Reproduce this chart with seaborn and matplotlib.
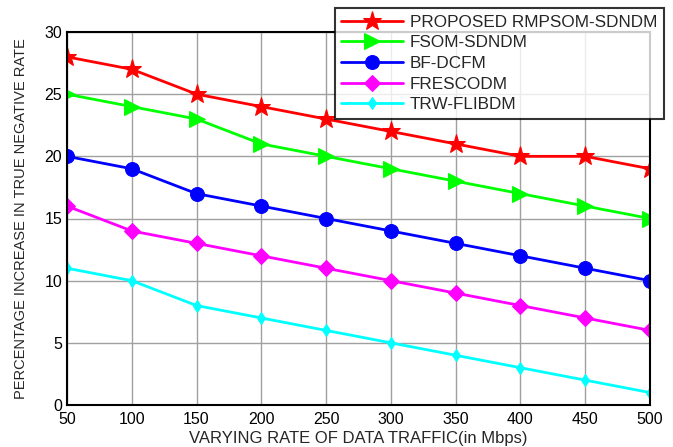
import numpy as np
import pandas as pd
import matplotlib
matplotlib.use("Agg")
import matplotlib.pyplot as plt
import seaborn as sns

# data
traffic = [50, 100, 150, 200, 250, 300, 350, 400, 450, 500]
rmpsom = [28, 27, 25, 24, 23, 22, 21, 20, 20, 19]
fsom = [25, 24, 23, 21, 20, 19, 18, 17, 16, 15]
bf_dcfm = [20, 19, 17, 16, 15, 14, 13, 12, 11, 10]
frescodm = [16, 14, 13, 12, 11, 10, 9, 8, 7, 6]
trw = [11, 10, 8, 7, 6, 5, 4, 3, 2, 1]

names = ["PROPOSED RMPSOM-SDNDM", "FSOM-SDNDM", "BF-DCFM", "FRESCODM", "TRW-FLIBDM"]
series = [rmpsom, fsom, bf_dcfm, frescodm, trw]
colors = ["#ff0000", "#00ff00", "#0000ff", "#ff00ff", "#00ffff"]
markers = ["*", ">", "o", "D", "d"]
msizes = [14, 11, 10, 8, 6]

sns.set_style("whitegrid")
plt.rcParams['font.family'] = ['Liberation Sans', 'DejaVu Sans']

fig = plt.figure(figsize=(6.73, 4.47), dpi=100)
ax = fig.add_axes([67 / 673, 42 / 447, 583 / 673, 373 / 447])

for name, vals, c, m, ms in zip(names, series, colors, markers, msizes):
    df = pd.DataFrame({"x": traffic, "y": vals})
    sns.lineplot(data=df, x="x", y="y", ax=ax, color=c, marker=m, markersize=ms,
                 markeredgecolor=c, linewidth=2, label=name)

ax.set_xlim(50, 500)
ax.set_ylim(0, 30)
ax.set_xticks(traffic)
ax.set_yticks(np.arange(0, 31, 5))
ax.grid(True, color="#a0a0a0", linewidth=1)
for s in ax.spines.values():
    s.set_color("black")
    s.set_linewidth(1.5)
ax.tick_params(direction="in", length=4, labelsize=11.5, colors="black")
ax.tick_params(axis="x", pad=5)
ax.set_xlabel("VARYING RATE OF DATA TRAFFIC(in Mbps)", fontsize=12, labelpad=3)
ax.set_ylabel("PERCENTAGE INCREASE IN TRUE NEGATIVE RATE", fontsize=10.5, labelpad=12)

leg = ax.legend(loc="upper right", bbox_to_anchor=(664 / 673, 1 - 8 / 447),
                bbox_transform=fig.transFigure, fontsize=12.3, frameon=True,
                fancybox=False, borderpad=0.4, labelspacing=0.33, handlelength=3.6,
                handletextpad=0.4, borderaxespad=0)
leg.get_frame().set_edgecolor("black")
leg.get_frame().set_linewidth(1.5)

fig.savefig("out.png", dpi=100)
